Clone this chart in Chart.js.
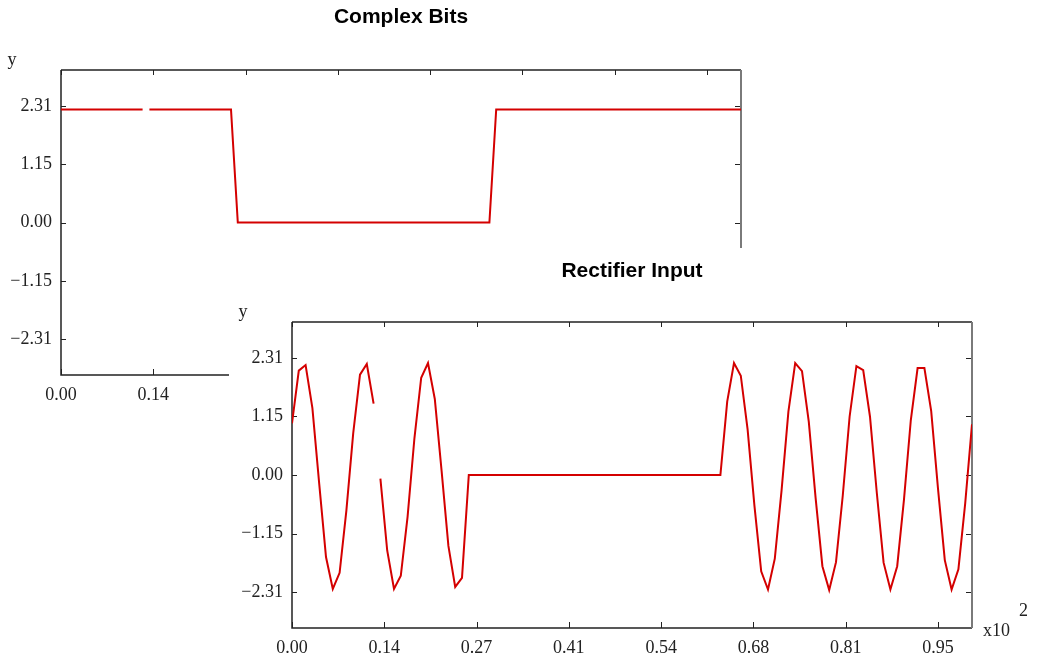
<!DOCTYPE html>
<html>
<head>
<meta charset="utf-8">
<script src="https://cdn.jsdelivr.net/npm/chart.js@4/dist/chart.umd.min.js"></script>
<style>
  html, body { margin: 0; padding: 0; background: #fff; }
  body { position: relative; width: 1037px; height: 656px; overflow: hidden; }
  .panel { position: absolute; width: 808px; height: 408px; }
  #bitsPanel { left: 0; top: 0; }
  #rectPanel { left: 229px; top: 248px; background: #fff; }
  canvas { display: block; }
</style>
</head>
<body>
<div class="panel" id="bitsPanel"><canvas id="bitsChart" width="808" height="408"></canvas></div>
<div class="panel" id="rectPanel"><canvas id="rectChart" width="808" height="408"></canvas></div>
<script>
// Sample values, one per 0.01 of the time axis (0 .. 1.00, shown as x10^2)
const complexBits = [
  2.24, 2.24, 2.24, 2.24, 2.24, 2.24, 2.24, 2.24, 2.24, 2.24,
  2.24, 2.24, 2.24, 2.24, 2.24, 2.24, 2.24, 2.24, 2.24, 2.24,
  2.24, 2.24, 2.24, 2.24, 2.24, 2.24, 0, 0, 0, 0,
  0, 0, 0, 0, 0, 0, 0, 0, 0, 0,
  0, 0, 0, 0, 0, 0, 0, 0, 0, 0,
  0, 0, 0, 0, 0, 0, 0, 0, 0, 0,
  0, 0, 0, 0, 2.24, 2.24, 2.24, 2.24, 2.24, 2.24,
  2.24, 2.24, 2.24, 2.24, 2.24, 2.24, 2.24, 2.24, 2.24, 2.24,
  2.24, 2.24, 2.24, 2.24, 2.24, 2.24, 2.24, 2.24, 2.24, 2.24,
  2.24, 2.24, 2.24, 2.24, 2.24, 2.24, 2.24, 2.24, 2.24, 2.24,
  2.24
];

const rectifierInput = [
  1.02, 2.06, 2.17, 1.32, -0.17, -1.62, -2.25, -1.93, -0.70, 0.82,
  1.98, 2.19, 1.41, -0.07, -1.49, -2.25, -1.99, -0.82, 0.72, 1.92,
  2.21, 1.50, 0.08, -1.40, -2.21, -2.03, 0, 0, 0, 0,
  0, 0, 0, 0, 0, 0, 0, 0, 0, 0,
  0, 0, 0, 0, 0, 0, 0, 0, 0, 0,
  0, 0, 0, 0, 0, 0, 0, 0, 0, 0,
  0, 0, 0, 0, 1.45, 2.21, 1.96, 0.90, -0.60, -1.90,
  -2.26, -1.65, -0.30, 1.25, 2.21, 2.05, 1.05, -0.45, -1.80, -2.27,
  -1.72, -0.40, 1.15, 2.15, 2.07, 1.15, -0.35, -1.73, -2.26, -1.80,
  -0.48, 1.08, 2.11, 2.11, 1.26, -0.27, -1.68, -2.26, -1.86, -0.56,
  1.00
];

// The link drops out between these two samples
const dropoutFrom = 12;

const xTickValues = [0, 0.1357, 0.2714, 0.4071, 0.5429, 0.6786, 0.8143, 0.95];
const xTickLabels = ['0.00', '0.14', '0.27', '0.41', '0.54', '0.68', '0.81', '0.95'];
const yTickValues = [-2.31, -1.155, 0, 1.155, 2.31];
const yTickLabels = ['\u22122.31', '\u22121.15', '0.00', '1.15', '2.31'];

const LABEL_FONT = { family: '"Liberation Serif", "DejaVu Serif", serif', size: 18 };
const TITLE_FONT = { family: '"Liberation Sans", Arial, sans-serif', size: 21, weight: 'bold' };
const TRACE = '#d40000';

// Axis frame with inward tick marks, the "y" label and the optional x10^n note
const framePlugin = {
  id: 'frame',
  beforeDatasetsDraw(chart, args, opts) {
    const { ctx, chartArea: a, scales: { x, y } } = chart;
    ctx.save();
    ctx.lineWidth = 1;
    ctx.strokeStyle = '#222';
    ctx.beginPath();
    for (const v of yTickValues) {
      const py = Math.round(y.getPixelForValue(v)) + 0.5;
      ctx.moveTo(a.left, py); ctx.lineTo(a.left + 5, py);
      ctx.moveTo(a.right, py); ctx.lineTo(a.right - 6, py);
    }
    for (const v of xTickValues) {
      const px = Math.round(x.getPixelForValue(v)) + 0.5;
      ctx.moveTo(px, a.bottom); ctx.lineTo(px, a.bottom - 6);
      ctx.moveTo(px, a.top); ctx.lineTo(px, a.top + 5);
    }
    ctx.stroke();

    ctx.lineWidth = 1.5;
    ctx.strokeStyle = '#222';
    ctx.beginPath();
    ctx.moveTo(a.left, a.top); ctx.lineTo(a.right, a.top);
    ctx.moveTo(a.left, a.top); ctx.lineTo(a.left, a.bottom);
    ctx.lineTo(a.right, a.bottom);
    ctx.stroke();

    ctx.lineWidth = 2;
    ctx.strokeStyle = '#7a7a7a';
    ctx.beginPath();
    ctx.moveTo(a.right, a.top); ctx.lineTo(a.right, a.bottom);
    ctx.stroke();
    ctx.restore();
  },
  afterDraw(chart, args, opts) {
    const { ctx, chartArea: a } = chart;
    ctx.save();
    ctx.fillStyle = '#222';
    ctx.font = LABEL_FONT.size + 'px ' + LABEL_FONT.family;
    ctx.textAlign = 'center';
    ctx.textBaseline = 'alphabetic';
    ctx.fillText('y', a.left - 49, a.top - 5);
    if (opts.exponent) {
      ctx.textAlign = 'left';
      ctx.textBaseline = 'middle';
      ctx.fillText('x10', a.right + 11, a.bottom + 3);
      ctx.fillText(opts.exponent, a.right + 47, a.bottom - 17);
    }
    ctx.restore();
  }
};

function makeChart(canvasId, title, values, layout) {
  const points = values.map((v, i) => ({ x: i / 100, y: v }));
  return new Chart(document.getElementById(canvasId), {
    type: 'line',
    data: {
      datasets: [{
        data: points,
        borderColor: TRACE,
        borderWidth: 2,
        pointRadius: 0,
        tension: 0,
        fill: false,
        segment: {
          borderColor: ctx => ctx.p0DataIndex === dropoutFrom ? 'rgba(0,0,0,0)' : undefined
        }
      }]
    },
    options: {
      responsive: false,
      animation: false,
      events: [],
      layout: { padding: { left: 0, right: layout.right, top: 0, bottom: 0 } },
      plugins: {
        legend: { display: false },
        tooltip: { enabled: false },
        title: {
          display: true,
          text: title,
          fullSize: false,
          color: '#000',
          font: TITLE_FONT,
          padding: { top: layout.titleTop, bottom: layout.titleBottom }
        },
        frame: { exponent: layout.exponent }
      },
      scales: {
        x: {
          type: 'linear',
          min: 0,
          max: 1,
          afterFit: s => { s.height = layout.xHeight; },
          afterBuildTicks: s => { s.ticks = xTickValues.map(v => ({ value: v })); },
          grid: { display: false, drawTicks: false },
          border: { display: false },
          ticks: {
            autoSkip: false,
            maxRotation: 0,
            padding: 9,
            color: '#222',
            font: LABEL_FONT,
            callback: (v, i) => xTickLabels[i]
          }
        },
        y: {
          type: 'linear',
          min: -3.02,
          max: 3.02,
          afterFit: s => { s.width = layout.yWidth; },
          afterBuildTicks: s => { s.ticks = yTickValues.map(v => ({ value: v })); },
          grid: { display: false, drawTicks: false },
          border: { display: false },
          ticks: {
            padding: 9,
            color: '#222',
            font: LABEL_FONT,
            callback: (v, i) => yTickLabels[i]
          }
        }
      }
    },
    plugins: [framePlugin]
  });
}

makeChart('bitsChart', 'Complex Bits', complexBits,
  { right: 67, yWidth: 61, xHeight: 33, titleTop: 4.9, titleBottom: 39.9, exponent: null });
makeChart('rectChart', 'Rectifier Input', rectifierInput,
  { right: 65, yWidth: 63, xHeight: 28, titleTop: 10.4, titleBottom: 38.4, exponent: '2' });
</script>
</body>
</html>
